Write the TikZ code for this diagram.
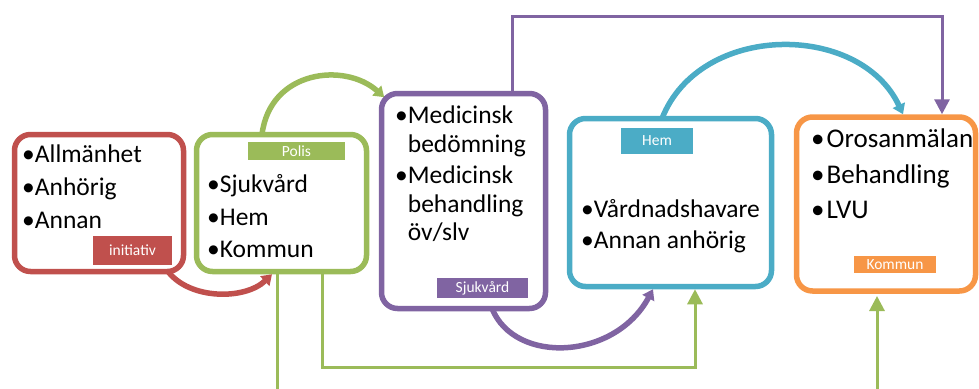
\documentclass[tikz,border=0pt]{standalone}
\usepackage{fontspec}
\setmainfont{Carlito}
\usetikzlibrary{arrows.meta}
\definecolor{cred}{HTML}{C0504D}
\definecolor{cgreen}{HTML}{9BBB59}
\definecolor{cpurple}{HTML}{8064A2}
\definecolor{cteal}{HTML}{4BACC6}
\definecolor{corange}{HTML}{F79646}
\begin{document}
\begin{tikzpicture}[x=1pt,y=-1pt,
  panel/.style={draw=#1, line width=5.5pt, rounded corners=16pt, fill=white,
    inner sep=0pt, outer sep=0pt},
  tag/.style={fill=#1, text=white, font=\fontsize{15.5}{16}\selectfont,
    inner sep=0pt, outer sep=0pt},
  entry/.style={anchor=base west, inner sep=0pt, font=\fontsize{25.5}{30}\selectfont},
  bigentry/.style={anchor=base west, inner sep=0pt, font=\fontsize{27}{30}\selectfont},
  bendarrow/.style={draw=#1, line width=5.5pt, -{Triangle[length=10pt,width=13pt]}},
  link/.style={draw=#1, line width=3pt, -{Triangle[length=15pt,width=15pt]}},
  plainlink/.style={draw=#1, line width=3pt}]
\useasboundingbox (0,0) rectangle (979,388);
\clip (0,0) rectangle (979,388);

% panels
\node[panel=cred,    minimum width=169, minimum height=137] (src)  at (99,203) {};
\node[panel=cgreen,  minimum width=170, minimum height=137] (pol)  at (281.5,203) {};
\node[panel=cpurple, minimum width=164, minimum height=215] (vard) at (463.5,201) {};
\node[panel=cteal,   minimum width=202, minimum height=168] (hem)  at (670.5,202.5) {};
\node[panel=corange, minimum width=179, minimum height=174] (kom)  at (886,204) {};

% category tags
\node[tag=cred,    minimum width=79, minimum height=29] (srctag)  at (132.5,250.5) {initiativ};
\node[tag=cgreen,  minimum width=97, minimum height=18] (poltag)  at (296.5,151) {Polis};
\node[tag=cpurple, minimum width=91, minimum height=20] (vardtag) at (482.5,288) {Sjukvård};
\node[tag=cteal,   minimum width=72, minimum height=26] (hemtag)  at (657,141) {Hem};
\node[tag=corange, minimum width=82, minimum height=17] (komtag)  at (895,264.5) {Kommun};

% bullet lists
\node[entry] (src1) at (22,162) {•Allmänhet};
\node[entry] (src2) at (22,195) {•Anhörig};
\node[entry] (src3) at (22,228) {•Annan};

\node[entry] (pol1) at (207,192) {•Sjukvård};
\node[entry] (pol2) at (207,225) {•Hem};
\node[entry] (pol3) at (207,257) {•Kommun};

\node[entry] (vard1) at (395,123) {•Medicinsk};
\node[entry] (vard2) at (395,152) {\hphantom{•}bedömning};
\node[entry] (vard3) at (395,183) {•Medicinsk};
\node[entry] (vard4) at (395,212) {\hphantom{•}behandling};
\node[entry] (vard5) at (395,240) {\hphantom{•}öv/slv};

\node[entry] (hem1) at (581,217) {•Vårdnadshavare};
\node[entry] (hem2) at (581,248) {•Annan anhörig};

\node[bigentry] (kom1) at (811,147) {•\hspace{2pt}Orosanmälan};
\node[bigentry] (kom2) at (811,183) {•\hspace{2pt}Behandling};
\node[bigentry] (kom3) at (811,218) {•\hspace{2pt}LVU};

% free ends at the lower border
\coordinate (polout) at (277,395);
\coordinate (komin)  at (877,395);

% curved hand-over arrows
\draw[bendarrow=cred] ([shift={(69,0)}]src.south)
  .. controls (190,300) and (245,300) .. ([shift={(-9.5,2.75)}]pol.south);
\draw[bendarrow=cgreen] ([shift={(-19.5,0)}]pol.north)
  .. controls (270,70) and (345,62) .. ([shift={(2.7,3.7)}]vard.north west);
\draw[bendarrow=cpurple] ([shift={(28.5,0)}]vard.south)
  .. controls (515,365) and (615,360) .. ([shift={(-17.5,2.75)}]hem.south);
\draw[bendarrow=cteal] ([shift={(-8.5,0)}]hem.north)
  .. controls (700,22) and (860,22) .. ([shift={(17,-2.75)}]kom.north);

% straight connectors
\draw[link=cpurple] ([shift={(48.5,0)}]vard.north) -- ++(0,-77.5)
  -| ([shift={(56,-2.75)}]kom.north);
\draw[plainlink=cgreen] ([shift={(-4.5,0)}]pol.south) -- (polout);
\draw[link=cgreen] ([shift={(40.5,0)}]pol.south) -- ++(0,95.5)
  -| ([shift={(24.5,2.75)}]hem.south);
\draw[link=cgreen] (komin) -- ([shift={(-9,5)}]kom.south);
\end{tikzpicture}
\end{document}
